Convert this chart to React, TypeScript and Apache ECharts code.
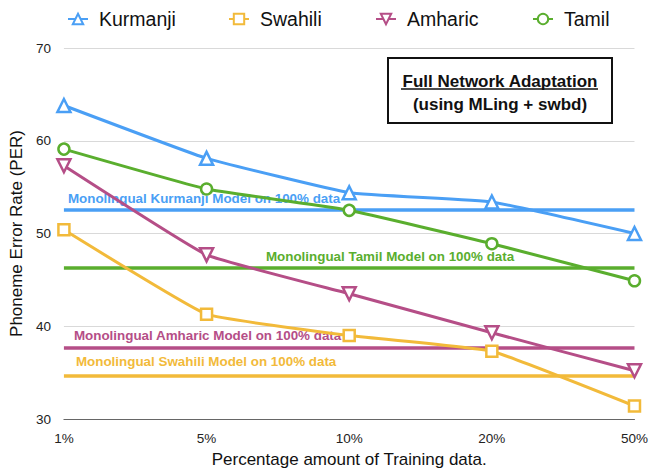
import React, { useEffect, useRef } from "react";
import * as echarts from "echarts";

const categories = ["1%", "5%", "10%", "20%", "50%"];
const seriesNames = ["Kurmanji", "Swahili", "Amharic", "Tamil"];
const kurmanji = [63.8, 58.1, 54.4, 53.4, 50.0];
const swahili = [50.4, 41.3, 39.0, 37.3, 31.4];
const amharic = [57.3, 47.7, 43.5, 39.3, 35.2];
const tamil = [59.1, 54.8, 52.5, 48.9, 44.9];
const monolingual = [52.6, 34.7, 37.7, 46.3];
const monoLabels = [
  "Monolingual Kurmanji Model on 100% data",
  "Monolingual Swahili Model on 100% data",
  "Monolingual Amharic Model on 100% data",
  "Monolingual Tamil Model on 100% data",
];
const yTicks = { min: 30, max: 70, interval: 10 };
const boxTitle = "Full Network Adaptation";
const boxSubtitle = "(using MLing + swbd)";
const xName = "Percentage amount of Training data.";
const yName = "Phoneme Error Rate (PER)";

const colors = ["#4A9FF5", "#F2BA3A", "#B54E87", "#5AAE2E"];
const symbols = ["triangle", "rect", "triangle", "circle"];
const rotations = [0, 0, 180, 0];
const legendLefts = [67, 228, 375, 532];
const labelDist = [
  [4, 4],
  [12, 7],
  [10, 6],
  [202, 5],
];
const FONT = "'Liberation Sans', Arial, Helvetica, sans-serif";

export default function App() {
  const ref = useRef<HTMLDivElement>(null);
  useEffect(() => {
    if (!ref.current) return;
    const chart = echarts.init(ref.current, null, { renderer: "svg" });
    const data = [kurmanji, swahili, amharic, tamil];
    const series = seriesNames.map((name, i) => ({
      name,
      type: "line",
      data: data[i],
      smooth: 0.1,
      symbol: symbols[i],
      symbolRotate: rotations[i],
      symbolSize: symbols[i] === "triangle" ? 13 : 11,
      showAllSymbol: true,
      clip: false,
      lineStyle: { color: colors[i], width: 3 },
      itemStyle: { color: "#fff", borderColor: colors[i], borderWidth: 2.5 },
      emphasis: { disabled: true },
      z: 3,
      markLine: {
        silent: true,
        symbol: ["none", "none"],
        animation: false,
        lineStyle: { color: colors[i], width: 3.5, type: "solid" },
        label: {
          show: true,
          position: "insideStartTop",
          formatter: monoLabels[i],
          color: colors[i],
          fontSize: 13.4,
          fontWeight: "bold",
          fontFamily: FONT,
          distance: labelDist[i],
        },
        emphasis: { disabled: true },
        data: [{ yAxis: monolingual[i] }],
        z: 2,
      },
    }));
    const legend = seriesNames.map((name, i) => ({
      data: [name],
      left: legendLefts[i],
      top: 9,
      padding: 0,
      itemWidth: 20,
      itemHeight: 13,
      selectedMode: false,
      textStyle: {
        fontSize: 19.5,
        color: "#111",
        fontFamily: FONT,
        padding: [0, 0, 0, 6],
      },
    }));
    chart.setOption({
      animation: false,
      textStyle: { fontFamily: FONT },
      color: colors,
      legend,
      grid: { left: 63, right: 15, top: 48, bottom: 51, containLabel: false },
      xAxis: {
        type: "category",
        data: categories,
        boundaryGap: false,
        name: xName,
        nameLocation: "middle",
        nameGap: 32,
        nameTextStyle: { fontSize: 17, color: "#111", fontFamily: FONT },
        axisLine: { show: true, lineStyle: { color: "#666", width: 1 } },
        axisTick: { show: false },
        axisLabel: { fontSize: 13.5, color: "#222", margin: 12, fontFamily: FONT },
        splitLine: { show: false },
      },
      yAxis: {
        type: "value",
        min: yTicks.min,
        max: yTicks.max,
        interval: yTicks.interval,
        name: yName,
        nameLocation: "middle",
        nameGap: 36,
        nameTextStyle: { fontSize: 17, color: "#111", fontFamily: FONT },
        axisLine: { show: false },
        axisTick: { show: false },
        axisLabel: { fontSize: 13.5, color: "#222", margin: 13, fontFamily: FONT },
        splitLine: { show: true, lineStyle: { color: "#d9d9d9", width: 1 } },
      },
      graphic: [
        {
          type: "rect",
          shape: { x: 388, y: 58, width: 224, height: 65 },
          style: { fill: "#fff", stroke: "#111", lineWidth: 2 },
          z: 10,
        },
        {
          type: "text",
          x: 500,
          y: 81,
          style: {
            text: boxTitle,
            fontSize: 17,
            fontWeight: "bold",
            fill: "#111",
            fontFamily: FONT,
            align: "center",
            verticalAlign: "middle",
          },
          z: 11,
        },
        {
          type: "line",
          shape: { x1: 401, y1: 89, x2: 598, y2: 89 },
          style: { stroke: "#111", lineWidth: 1.5 },
          z: 11,
        },
        {
          type: "text",
          x: 500,
          y: 104,
          style: {
            text: boxSubtitle,
            fontSize: 17,
            fontWeight: "bold",
            fill: "#111",
            fontFamily: FONT,
            align: "center",
            verticalAlign: "middle",
          },
          z: 11,
        },
      ],
      series,
    });
    return () => chart.dispose();
  }, []);
  return <div ref={ref} style={{ width: 651, height: 473, position: "absolute", left: 0, top: 0 }} />;
}
